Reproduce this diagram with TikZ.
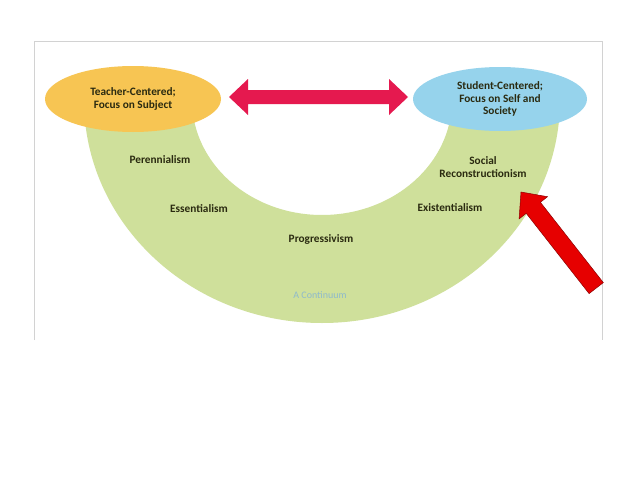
\documentclass[tikz,border=0pt]{standalone}
\usepackage{fontspec}
\setmainfont{Carlito}
\usetikzlibrary{shapes.geometric}
\definecolor{arcg}{HTML}{CFE09B}
\definecolor{yel}{HTML}{F7C553}
\definecolor{blu}{HTML}{96D3EC}
\definecolor{mag}{HTML}{E5194F}
\definecolor{redar}{HTML}{E60000}
\definecolor{txt}{HTML}{2A2A10}
\tikzset{lbl/.style={font=\fontsize{11.3}{12.5}\selectfont\bfseries, text=txt, align=center, inner sep=0pt}}
\begin{document}
\begin{tikzpicture}[x=1pt,y=-1pt]
\useasboundingbox[fill=white] (0,0) rectangle (638,479);
\draw[gray!35, line width=0.8pt] (34,340) -- (34,41) -- (602,41) -- (602,340);
\fill[arcg] (84,100) arc[start angle=180, end angle=0, x radius=238, y radius=223]
  -- (452,100) arc[start angle=0, end angle=180, x radius=130, y radius=115] -- cycle;
\node[ellipse, fill=yel, minimum width=176, minimum height=66, inner sep=0pt, lbl] (tc) at (133,99) {Teacher-Centered;\\Focus on Subject};
\node[ellipse, fill=blu, minimum width=174, minimum height=64, inner sep=0pt, lbl] (sc) at (500,99) {Student-Centered;\\Focus on Self and\\Society};
\fill[mag] (229,97) -- (248,79) -- (248,90) -- (389,90) -- (389,79) -- (408,97)
  -- (389,115) -- (389,104) -- (248,104) -- (248,115) -- cycle;
\node[lbl] (per) at (160,160) {Perennialism};
\node[lbl] (ess) at (199,209) {Essentialism};
\node[lbl] (pro) at (321,239) {Progressivism};
\node[lbl] (soc) at (483,167) {Social\\Reconstructionism};
\node[lbl] (exi) at (450,208) {Existentialism};
\node[lbl, text=blu!70!gray, font=\fontsize{10}{11}\selectfont] (con) at (320,295) {A Continuum};
\filldraw[fill=redar, draw=red!55!black, line width=0.5pt] (521,192) -- (547.5,196.7) -- (540.4,202.3)
  -- (603.3,282.6) -- (589.1,293.6) -- (526.2,213.3) -- (519.1,218.9) -- cycle;
\end{tikzpicture}
\end{document}
